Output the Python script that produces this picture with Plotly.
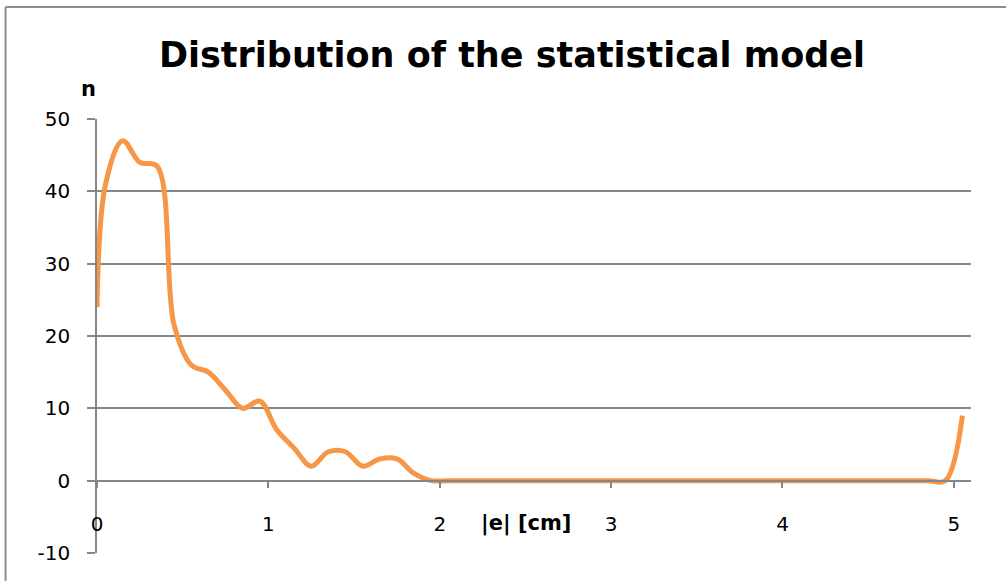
import plotly.graph_objects as go

# |e| [cm] bin positions and counts n
e_cm = [0, 0.05, 0.15, 0.25, 0.35, 0.45, 0.55, 0.65, 0.75, 0.85, 0.95,
        1.05, 1.15, 1.25, 1.35, 1.45, 1.55, 1.65, 1.75, 1.85, 1.95,
        2.05, 2.15, 2.25, 2.35, 2.45, 2.55, 2.65, 2.75, 2.85, 2.95,
        3.05, 3.15, 3.25, 3.35, 3.45, 3.55, 3.65, 3.75, 3.85, 3.95,
        4.05, 4.15, 4.25, 4.35, 4.45, 4.55, 4.65, 4.75, 4.85, 4.95, 5.05]
n_vals = [24, 41, 47, 44, 43.5, 21.5, 16, 15, 12.5, 10, 11,
          7, 4.5, 2, 4, 4, 2, 3, 3, 1, 0,
          0, 0, 0, 0, 0, 0, 0, 0, 0, 0,
          0, 0, 0, 0, 0, 0, 0, 0, 0, 0,
          0, 0, 0, 0, 0, 0, 0, 0, 0, 0, 9]

x_ticks = [0, 1, 2, 3, 4, 5]
y_ticks = [-10, 0, 10, 20, 30, 40, 50]

W, H = 1006, 581
ml, mr, mt, mb = 96.5, 35, 119, 28.3
pw, ph = W - ml - mr, H - mt - mb

def px_x(p):
    return (p - ml) / pw

def px_y(p):
    return (H - mb - p) / ph

GRID = "#868686"
FONT = "DejaVu Sans"

fig = go.Figure()
fig.add_trace(go.Scatter(
    x=e_cm, y=n_vals, mode="lines",
    line=dict(color="#F79646", width=5, shape="spline", smoothing=1.0),
    hoverinfo="x+y", showlegend=False,
))

fig.update_layout(
    width=W, height=H,
    margin=dict(l=ml, r=mr, t=mt, b=mb, pad=0),
    paper_bgcolor="white", plot_bgcolor="white",
    font=dict(family=FONT, size=20, color="black"),
    title=dict(text="<b>Distribution of the statistical model</b>",
               x=512 / W, xanchor="center", y=1 - 55 / H, yanchor="middle",
               font=dict(family=FONT, size=35, color="black")),
    xaxis=dict(range=[0, 5.1], tickvals=x_ticks, ticktext=[str(v) for v in x_ticks],
               showgrid=False, zeroline=False, showline=True, linecolor=GRID, linewidth=1.5,
               ticks="outside", ticklen=7, tickwidth=1.5, tickcolor=GRID,
               anchor="free", position=1 / 6, ticklabelstandoff=19,
               tickfont=dict(family=FONT, size=20, color="black")),
    yaxis=dict(range=[-10, 50], tickvals=y_ticks, ticktext=[str(v) for v in y_ticks],
               showgrid=True, gridcolor=GRID, gridwidth=1.5, zeroline=False,
               showline=True, linecolor=GRID, linewidth=1.5,
               ticks="outside", ticklen=8, tickwidth=1.5, tickcolor=GRID,
               ticklabelstandoff=13,
               tickfont=dict(family=FONT, size=20, color="black")),
    annotations=[
        dict(text="<b>n</b>", x=px_x(88), y=px_y(89), xref="paper", yref="paper",
             xanchor="center", yanchor="middle", showarrow=False,
             font=dict(family=FONT, size=21, color="black")),
        dict(text="<b>|e| [cm]</b>", x=px_x(526), y=px_y(523), xref="paper", yref="paper",
             xanchor="center", yanchor="middle", showarrow=False,
             font=dict(family=FONT, size=21, color="black")),
    ],
    shapes=[
        dict(type="line", xref="paper", yref="paper", x0=px_x(5), x1=px_x(5),
             y0=px_y(7), y1=px_y(H + 5), line=dict(color="#8c8c8c", width=2)),
        dict(type="line", xref="paper", yref="paper", x0=px_x(5), x1=px_x(W + 5),
             y0=px_y(7), y1=px_y(7), line=dict(color="#8c8c8c", width=2)),
    ],
)

fig.write_html("out.html", config={"displayModeBar": False},
               post_script="document.body.style.margin='0';document.body.style.overflow='hidden';")
